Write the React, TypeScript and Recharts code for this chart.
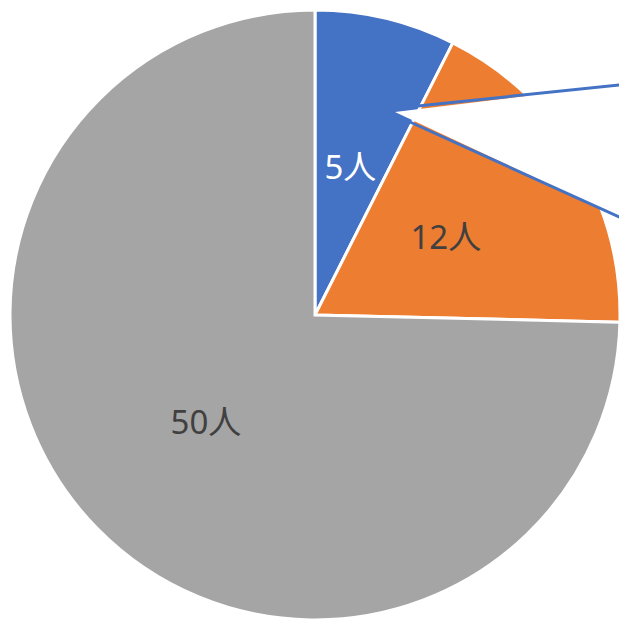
import React from "react";
import { PieChart, Pie, Cell } from "recharts";

const categories = ["A", "B", "C"];
const values = [5, 12, 50];
const labels = ["5人", "12人", "50人"];
const colors = ["#4472C4", "#ED7D31", "#A5A5A5"];
const labelColors = ["#FFFFFF", "#404040", "#404040"];

const data = categories.map((c, i) => ({ name: c, value: values[i], label: labels[i] }));

const RADIAN = Math.PI / 180;

const renderLabel = (props: any) => {
  const { cx, cy, midAngle, outerRadius, index } = props;
  const r = outerRadius * 0.5;
  const x = cx + r * Math.cos(-midAngle * RADIAN);
  const y = cy + r * Math.sin(-midAngle * RADIAN);
  return (
    <text
      x={x}
      y={y}
      fill={labelColors[index]}
      textAnchor="middle"
      dominantBaseline="central"
      fontSize={33}
      fontWeight={400}
      fontFamily="'Noto Sans', 'Noto Sans CJK JP', sans-serif"
    >
      {data[index].label}
    </text>
  );
};

export default function App() {
  return (
    <div style={{ position: "absolute", left: 0, top: 0, width: 619, height: 620, background: "#fff", overflow: "hidden" }}>
      <PieChart width={619} height={620} margin={{ top: 0, right: 0, bottom: 0, left: 0 }}>
        <Pie
          data={data}
          dataKey="value"
          cx={315}
          cy={315}
          outerRadius={305}
          startAngle={90}
          endAngle={-270}
          stroke="#FFFFFF"
          strokeWidth={3}
          label={renderLabel}
          labelLine={false}
          isAnimationActive={false}
        >
          {data.map((d, i) => (
            <Cell key={d.name} fill={colors[i]} />
          ))}
        </Pie>
      </PieChart>
      <svg width={619} height={620} style={{ position: "absolute", left: 0, top: 0, pointerEvents: "none" }}>
        <polygon points="395,112 640,82 640,227" fill="#FFFFFF" stroke="none" />
        <line x1={418} y1={106} x2={640} y2={82.8} stroke="#4472C4" strokeWidth={3} />
        <line x1={410} y1={122} x2={640} y2={226.5} stroke="#4472C4" strokeWidth={3} />
      </svg>
    </div>
  );
}
